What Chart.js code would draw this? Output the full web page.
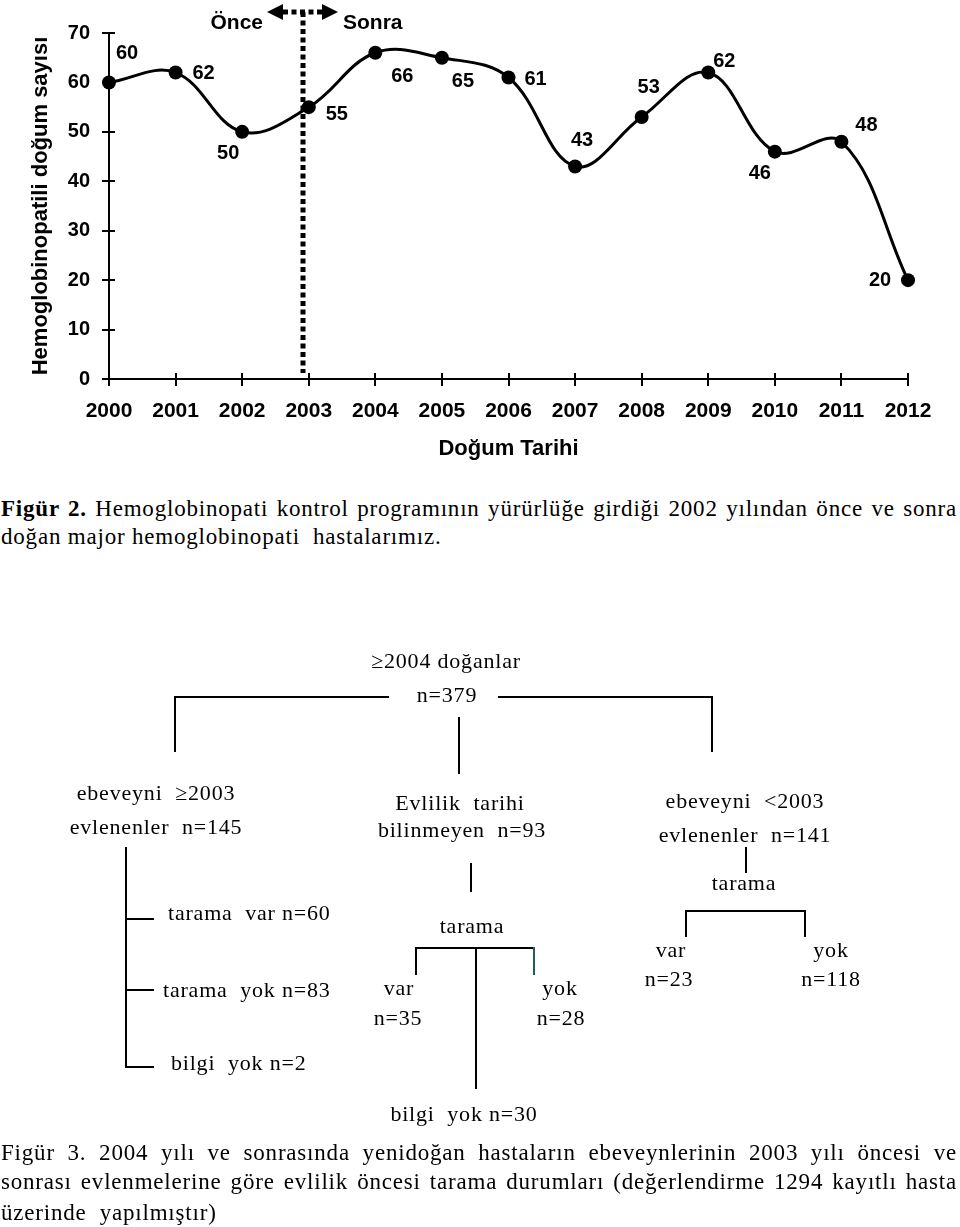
<!DOCTYPE html>
<html>
<head>
<meta charset="utf-8">
<script src="https://cdn.jsdelivr.net/npm/chart.js@4.4.1/dist/chart.umd.min.js"></script>
<style>
    body { margin: 0; background: #fff; width: 960px; height: 1227px; position: relative; overflow: hidden; }
    #birthChart { position: absolute; left: 0; top: 0; }
    .cap { position: absolute; left: 1px; width: 956px; font-family: 'Liberation Serif', 'Times New Roman', serif; font-size: 23px; line-height: 29px; letter-spacing: 0.8px; color: #000; }
    .just { text-align: justify; text-align-last: justify; }
    .plain { white-space: pre; }
    #tree { position: absolute; left: 0; top: 0; }
    #tree text { font-family: 'Liberation Serif', 'Times New Roman', serif; font-size: 22px; letter-spacing: 0.8px; fill: #000; white-space: pre; }
    #tree line { stroke: #000; stroke-width: 2; }
</style>
</head>
<body>
<canvas id="birthChart" width="960" height="470"></canvas>

<div class="cap just" style="top:494px"><b>Figür 2.</b> Hemoglobinopati kontrol programının yürürlüğe girdiği 2002 yılından önce ve sonra</div>
<div class="cap plain" style="top:522px">doğan major hemoglobinopati  hastalarımız.</div>

<svg id="tree" width="960" height="1227" viewBox="0 0 960 1227">
    <text x="446" y="668" text-anchor="middle">≥2004 doğanlar</text>
    <text x="447" y="702" text-anchor="middle">n=379</text>
    <line x1="174" y1="697" x2="389" y2="697"/>
    <line x1="498" y1="697" x2="713" y2="697"/>
    <line x1="175" y1="696" x2="175" y2="752"/>
    <line x1="712" y1="696" x2="712" y2="752"/>
    <line x1="459" y1="717" x2="459" y2="774"/>

    <text x="156" y="800" text-anchor="middle">ebeveyni  ≥2003</text>
    <text x="156" y="834" text-anchor="middle">evlenenler  n=145</text>
    <line x1="126" y1="847" x2="126" y2="1068"/>
    <line x1="125" y1="919" x2="154" y2="919"/>
    <line x1="125" y1="990" x2="154" y2="990"/>
    <line x1="125" y1="1067" x2="154" y2="1067"/>
    <text x="168" y="920">tarama  var n=60</text>
    <text x="163" y="997">tarama  yok n=83</text>
    <text x="171" y="1070">bilgi  yok n=2</text>

    <text x="460" y="810" text-anchor="middle">Evlilik  tarihi</text>
    <text x="462" y="837" text-anchor="middle">bilinmeyen  n=93</text>
    <line x1="471" y1="863" x2="471" y2="892"/>
    <text x="472" y="933" text-anchor="middle">tarama</text>
    <line x1="415" y1="948" x2="535" y2="948"/>
    <line x1="416" y1="947" x2="416" y2="975"/>
    <line x1="534" y1="947" x2="534" y2="975" style="stroke:#1f5c6b"/>
    <line x1="476" y1="947" x2="476" y2="1089"/>
    <text x="399" y="995" text-anchor="middle">var</text>
    <text x="398" y="1025" text-anchor="middle">n=35</text>
    <text x="560" y="995" text-anchor="middle">yok</text>
    <text x="561" y="1025" text-anchor="middle">n=28</text>
    <text x="464" y="1121" text-anchor="middle">bilgi  yok n=30</text>

    <text x="745" y="808" text-anchor="middle">ebeveyni  &lt;2003</text>
    <text x="745" y="842" text-anchor="middle">evlenenler  n=141</text>
    <line x1="746" y1="847" x2="746" y2="873"/>
    <text x="744" y="890" text-anchor="middle">tarama</text>
    <line x1="685" y1="911" x2="806" y2="911"/>
    <line x1="686" y1="910" x2="686" y2="937"/>
    <line x1="805" y1="910" x2="805" y2="937"/>
    <text x="671" y="957" text-anchor="middle">var</text>
    <text x="669" y="986" text-anchor="middle">n=23</text>
    <text x="831" y="957" text-anchor="middle">yok</text>
    <text x="831" y="986" text-anchor="middle">n=118</text>
</svg>

<div class="cap just" style="top:1138px">Figür 3. 2004 yılı ve sonrasında yenidoğan hastaların ebeveynlerinin 2003 yılı öncesi ve</div>
<div class="cap just" style="top:1167px">sonrası evlenmelerine göre evlilik öncesi tarama durumları (değerlendirme 1294 kayıtlı hasta</div>
<div class="cap plain" style="top:1198px">üzerinde  yapılmıştır)</div>

<script>
const years = ['2000', '2001', '2002', '2003', '2004', '2005', '2006', '2007', '2008', '2009', '2010', '2011', '2012'];
const births = [60, 62, 50, 55, 66, 65, 61, 43, 53, 62, 46, 48, 20];
const yTickValues = [0, 10, 20, 30, 40, 50, 60, 70];
const dividerAt = 2.92; // program start marker, in category units

// where each value label sits relative to its point (px)
const labelOffsets = [[18, -29], [28, 1], [-14, 22], [28, 7], [27, 24], [21, 24], [27, 2], [7, -26], [7, -30], [16, -11], [-15, 22], [25, -16], [-28, 0]];

const sansBold = (size) => ({ family: "'Liberation Sans', Arial, sans-serif", weight: 'bold', size });

// keep justified caption lines on one line each
document.querySelectorAll('.just').forEach((el) => {
    let ls = 0.8;
    while (el.offsetHeight > 30 && ls > -1) {
        ls -= 0.1;
        el.style.letterSpacing = ls + 'px';
    }
});

const crossTicksPlugin = {
    id: 'crossTicks',
    beforeDatasetsDraw(chart) {
        const { ctx, chartArea, scales: { x, y } } = chart;
        ctx.save();
        ctx.strokeStyle = '#000';
        ctx.lineWidth = 2;
        ctx.beginPath();
        y.ticks.forEach((t, i) => {
            const py = Math.round(y.getPixelForTick(i));
            ctx.moveTo(chartArea.left - 7, py);
            ctx.lineTo(chartArea.left + 6, py);
        });
        x.ticks.forEach((t, i) => {
            const px = Math.round(x.getPixelForTick(i));
            ctx.moveTo(px, chartArea.bottom - 6);
            ctx.lineTo(px, chartArea.bottom + 7);
        });
        ctx.stroke();
        ctx.restore();
    },
};

const dividerPlugin = {
    id: 'divider',
    beforeDatasetsDraw(chart) {
        const { ctx, chartArea } = chart;
        const x = Math.round(chart.scales.x.getPixelForValue(dividerAt));
        const top = 12;

        ctx.save();
        ctx.strokeStyle = '#000';
        ctx.fillStyle = '#000';
        ctx.lineWidth = 5;
        ctx.setLineDash([5, 3.5]);
        ctx.beginPath();
        ctx.moveTo(x, top);
        ctx.lineTo(x, chartArea.bottom - 6);
        ctx.moveTo(x - 20, top);
        ctx.lineTo(x + 20, top);
        ctx.stroke();
        ctx.setLineDash([]);

        ctx.beginPath();
        ctx.moveTo(x - 36, top);
        ctx.lineTo(x - 20, top - 8);
        ctx.lineTo(x - 20, top + 8);
        ctx.closePath();
        ctx.moveTo(x + 35, top);
        ctx.lineTo(x + 19, top - 8);
        ctx.lineTo(x + 19, top + 8);
        ctx.closePath();
        ctx.fill();

        ctx.font = "bold 21px 'Liberation Sans', Arial, sans-serif";
        ctx.textBaseline = 'alphabetic';
        ctx.textAlign = 'right';
        ctx.fillText('Önce', x - 40, 29);
        ctx.textAlign = 'left';
        ctx.fillText('Sonra', x + 40, 29);
        ctx.restore();
    },
};

const valueLabelsPlugin = {
    id: 'valueLabels',
    afterDatasetsDraw(chart) {
        const { ctx } = chart;
        const meta = chart.getDatasetMeta(0);
        ctx.save();
        ctx.font = "bold 20px 'Liberation Sans', Arial, sans-serif";
        ctx.fillStyle = '#000';
        ctx.textAlign = 'center';
        ctx.textBaseline = 'middle';
        meta.data.forEach((pt, i) => {
            const [dx, dy] = labelOffsets[i] || [0, -20];
            ctx.fillText(String(births[i]), pt.x + dx, pt.y + dy);
        });
        ctx.restore();
    },
};

Chart.defaults.color = '#000';

new Chart(document.getElementById('birthChart'), {
    type: 'line',
    data: {
        labels: years,
        datasets: [{
            data: births,
            borderColor: '#000',
            borderWidth: 3,
            tension: 0.38,
            pointRadius: 7,
            pointBackgroundColor: '#000',
            pointBorderWidth: 0,
            clip: false,
        }],
    },
    options: {
        responsive: false,
        animation: false,
        events: [],
        layout: { padding: { top: 33, right: 52, left: 0, bottom: 0 } },
        scales: {
            x: {
                offset: false,
                grid: { display: false, drawTicks: false },
                border: { display: true, color: '#000', width: 2 },
                ticks: { font: sansBold(21), padding: 20, autoSkip: false, maxRotation: 0 },
                title: { display: true, text: 'Doğum Tarihi', font: sansBold(22), padding: { top: 4, bottom: 8 } },
                afterFit(scale) { scale.height = 91; },
            },
            y: {
                min: 0,
                max: 70,
                afterBuildTicks(scale) { scale.ticks = yTickValues.map((v) => ({ value: v })); },
                grid: { display: false, drawTicks: false },
                border: { display: true, color: '#000', width: 2 },
                ticks: { font: sansBold(20), padding: 19 },
                title: { display: true, text: 'Hemoglobinopatili doğum sayısı', font: sansBold(22), padding: { top: 28, bottom: 0 } },
                afterFit(scale) { scale.width = 109; },
            },
        },
        plugins: {
            legend: { display: false },
            tooltip: { enabled: false },
        },
    },
    plugins: [crossTicksPlugin, dividerPlugin, valueLabelsPlugin],
});
</script>
</body>
</html>
